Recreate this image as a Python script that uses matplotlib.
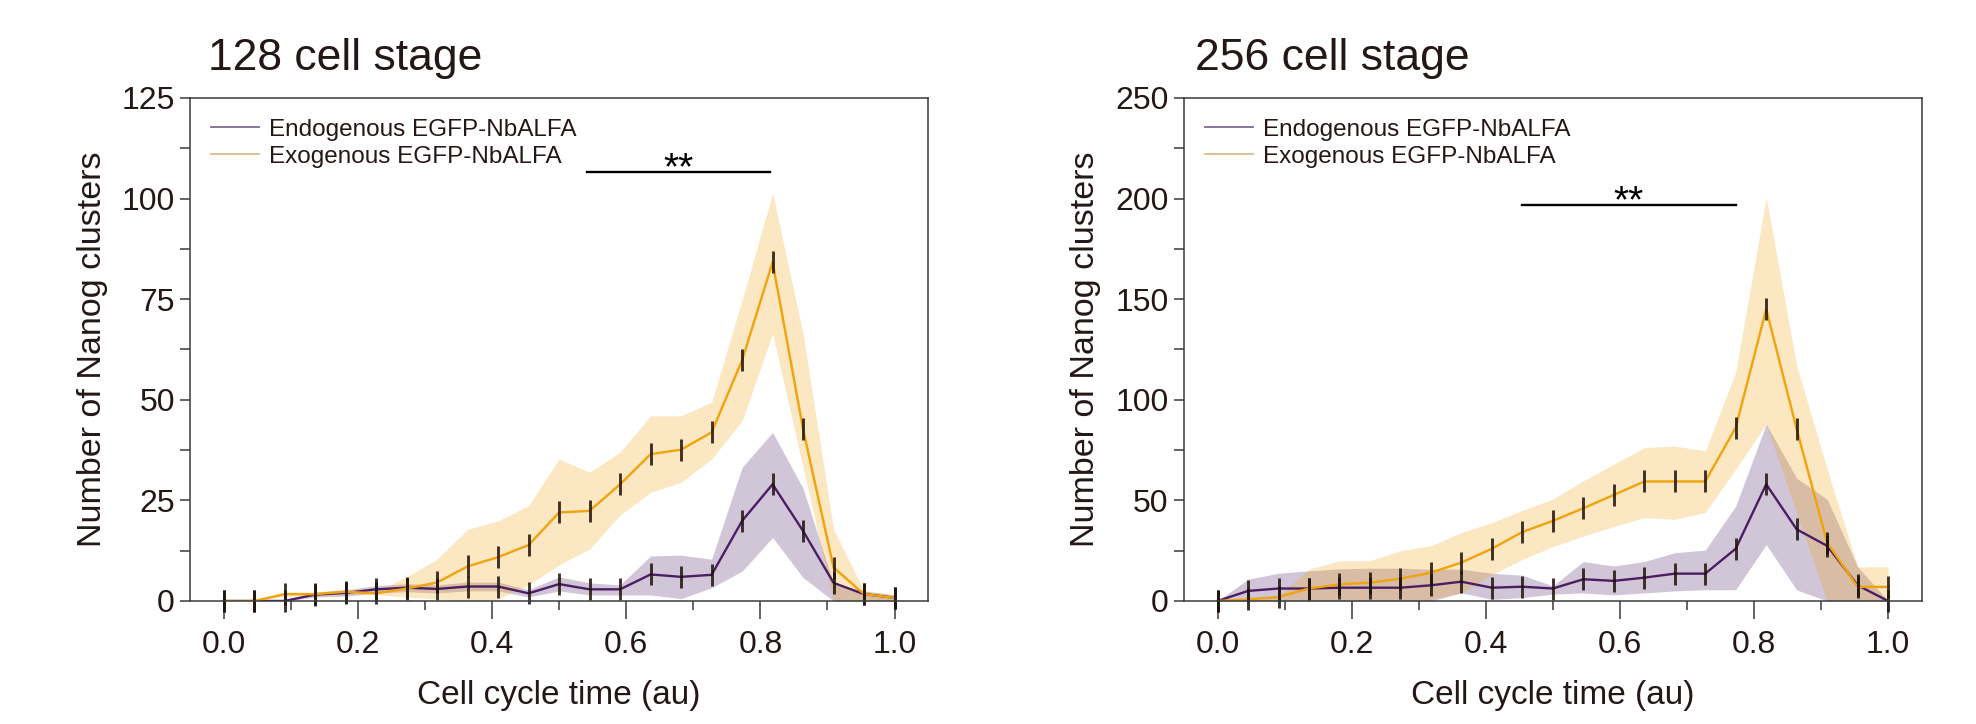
import numpy as np
import matplotlib.pyplot as plt
from matplotlib.lines import Line2D
from matplotlib.ticker import MultipleLocator

plt.rcParams['font.family'] = ['Liberation Sans', 'DejaVu Sans']

# Cell cycle time, 23 evenly spaced bins
x = np.linspace(0, 1, 23)

# 128 cell stage
endo_128 = [0, 0, 0, 1.6, 2.0, 2.9, 3.3, 3.0, 3.6, 3.6, 1.9, 4.2, 2.9, 2.9, 6.6, 6.0, 6.5, 19.9, 29.0, 17.4, 4.5, 1.7, 0.8]
endo_128_lo = [0, 0, 0, 1.0, 1.2, 2.0, 2.3, 2.0, 2.5, 2.5, 1.0, 2.5, 1.5, 1.5, 1.5, 0.6, 3.3, 7.4, 15.8, 5.8, 0, 0, 0]
endo_128_hi = [0, 0, 0, 2.2, 2.8, 3.8, 4.3, 4.0, 4.7, 4.7, 2.8, 6.0, 4.5, 4.0, 11.2, 11.4, 10.4, 33.2, 41.9, 28.0, 4.2, 2.5, 1.5]
exo_128 = [0, 0, 1.7, 1.7, 2.3, 1.9, 3.1, 4.6, 8.6, 10.9, 13.9, 22.0, 22.4, 29.0, 36.5, 37.6, 41.9, 59.8, 84.2, 42.7, 8.3, 1.7, 0.8]
exo_128_lo = [0, 0, 1.2, 1.2, 1.8, 1.5, 1.0, 0.5, 0, 0.5, 4, 9, 12.9, 21.4, 27, 29.5, 35.3, 44.8, 66.4, 33.2, 0, 0, 0]
exo_128_hi = [0, 0, 2.2, 2.2, 2.8, 2.3, 6, 10.4, 17.8, 19.9, 23.7, 35.3, 32, 37, 46, 46, 49.4, 74.7, 101.3, 66.4, 17.8, 2.5, 1.5]

# 256 cell stage
endo_256 = [0, 5, 6.2, 6.2, 6.6, 6.6, 6.6, 7.8, 9.6, 6.6, 7.1, 6.2, 10.8, 10, 11.6, 13.6, 13.6, 26, 58, 35.6, 27.4, 7.8, 0]
endo_256_lo = [0, 0, 0, 0, 0, 0, 0, 0, 4.1, 0.8, 1.7, 3.4, 4, 3, 4, 5, 5.6, 5.6, 28, 5.5, 0, 0, 0]
endo_256_hi = [0, 10.8, 13.8, 15, 16, 16.3, 16.3, 15.8, 15.8, 13.8, 12.8, 7.5, 19.6, 17.4, 19.6, 24, 25.3, 47.2, 87.9, 61, 50.5, 17, 0]
exo_256 = [0, 0.8, 2, 6.2, 8.3, 9.1, 11.1, 14.1, 19.1, 26, 34.3, 39.8, 46.1, 52.7, 59.4, 59.4, 59.4, 86.2, 145, 85.4, 29, 7, 7]
exo_256_lo = [0, 0, 0, 0.8, 0.8, 0.8, 0.8, 0.8, 4, 13, 20.7, 27, 32.3, 37, 41.4, 40.6, 44, 65.5, 87.9, 43.5, 0, 0, 0]
exo_256_hi = [0, 1.5, 2.5, 15.8, 20, 20, 25, 27.5, 34, 39, 45, 50.6, 59.7, 68, 76.2, 77, 74.6, 113.6, 200.6, 116.9, 65.5, 17, 17]

# significance bars: (x start, x end, height)
sig_128 = (0.541, 0.814, 106.6)
sig_256 = (0.454, 0.773, 196.8)

purple = '#4b1e64'
orange = '#f0a30a'
text_col = '#231815'
axis_col = '#3a3a3a'


def draw_panel(ax, endo, endo_lo, endo_hi, exo, exo_lo, exo_hi, ymax, ystep, sig):
    # shaded bands and mean lines
    ax.fill_between(x, endo_lo, endo_hi, color=purple, alpha=0.25, lw=0)
    ax.plot(x, endo, color=purple, lw=1.7)
    ax.fill_between(x, exo_lo, exo_hi, color=orange, alpha=0.25, lw=0)
    ax.plot(x, exo, color=orange, lw=1.7)
    # error ticks
    for series in (endo, exo):
        ax.plot(x, series, ls='none', marker='|', ms=16, mew=2.1, color='#1e1208', alpha=0.85, clip_on=False)

    ax.set_xlim(-0.05, 1.05)
    ax.set_ylim(0, ymax)
    ax.xaxis.set_major_locator(MultipleLocator(0.2))
    ax.xaxis.set_minor_locator(MultipleLocator(0.1))
    ax.yaxis.set_major_locator(MultipleLocator(ystep))
    ax.yaxis.set_minor_locator(MultipleLocator(ystep / 2))
    ax.xaxis.set_major_formatter(lambda v, p: f'{v:.1f}')
    ax.tick_params(axis='x', which='major', length=13, width=1.1, color=axis_col, labelsize=23, labelcolor=text_col, pad=8)
    ax.tick_params(axis='x', which='minor', length=6.5, width=1.1, color=axis_col)
    ax.tick_params(axis='y', which='both', length=7, width=1.1, color=axis_col, labelsize=23, labelcolor=text_col, pad=4)
    for s in ax.spines.values():
        s.set_color(axis_col)
        s.set_linewidth(1.1)

    ax.set_xlabel('Cell cycle time (au)', fontsize=24, color=text_col, labelpad=14)
    ax.set_ylabel('Number of Nanog clusters', fontsize=24.5, color=text_col, labelpad=10)

    # significance
    x0, x1, yb = sig
    ax.plot([x0, x1], [yb, yb], color='black', lw=1.7)
    ax.annotate('**', xy=((x0 + x1) / 2, yb), xytext=(0, -5), textcoords='offset points',
                ha='center', va='baseline', fontsize=28, color='black')

    handles = [Line2D([], [], color='#7b6a92', lw=1.3),
               Line2D([], [], color='#d9bb8c', lw=1.3)]
    ax.legend(handles, ['Endogenous EGFP-NbALFA', 'Exogenous EGFP-NbALFA'], loc='upper left',
              bbox_to_anchor=(0, 1), frameon=False, fontsize=17.5, handlelength=2.0,
              handletextpad=0.4, borderaxespad=0.45, borderpad=0.4, labelspacing=0.2,
              labelcolor=text_col)


fig = plt.figure(figsize=(19.76, 7.24), dpi=100)
ax1 = fig.add_axes([0.0962, 0.1699, 0.3735, 0.6948])
ax2 = fig.add_axes([0.5992, 0.1699, 0.3733, 0.6948])

draw_panel(ax1, endo_128, endo_128_lo, endo_128_hi, exo_128, exo_128_lo, exo_128_hi, 125, 25, sig_128)
draw_panel(ax2, endo_256, endo_256_lo, endo_256_hi, exo_256, exo_256_lo, exo_256_hi, 250, 50, sig_256)

fig.text(208 / 1976, 1 - 70 / 724, '128 cell stage', fontsize=32, color=text_col, va='baseline')
fig.text(1195 / 1976, 1 - 70 / 724, '256 cell stage', fontsize=32, color=text_col, va='baseline')

fig.savefig('out.png', dpi=100)
